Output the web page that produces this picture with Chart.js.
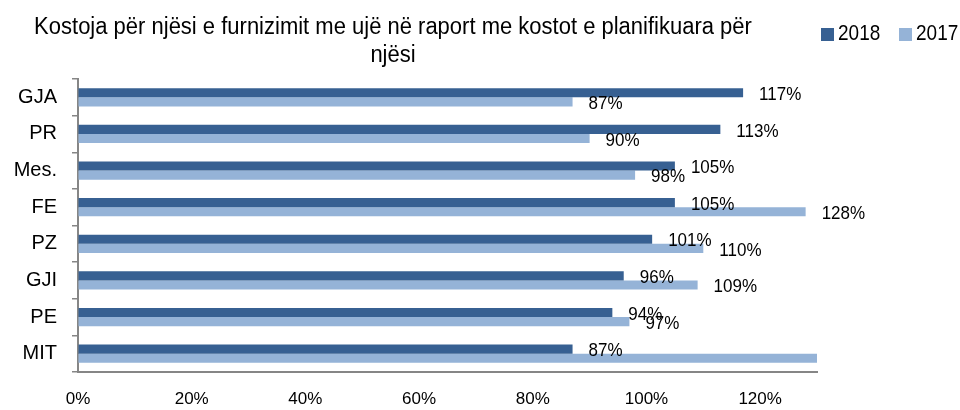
<!DOCTYPE html>
<html>
<head>
<meta charset="utf-8">
<script src="https://cdn.jsdelivr.net/npm/chart.js@4"></script>
<style>
  html, body { margin: 0; padding: 0; background: #ffffff; }
  #wrap { width: 960px; height: 410px; }
</style>
</head>
<body>
<div id="wrap"><canvas id="c" width="960" height="410"></canvas></div>
<script>
const categories = ['GJA', 'PR', 'Mes.', 'FE', 'PZ', 'GJI', 'PE', 'MIT'];
const values2018 = [117, 113, 105, 105, 101, 96, 94, 87];
const values2017 = [87, 90, 98, 128, 110, 109, 97, 135];
const seriesNames = ['2018', '2017'];
const titleLines = ['Kostoja për njësi e furnizimit me ujë në raport me kostot e planifikuara për', 'njësi'];
const xTickValues = [0, 20, 40, 60, 80, 100, 120];

const FONT = "'Liberation Sans', Arial, sans-serif";
const DARK = '#376092';
const LIGHT = '#95B3D7';
const AXIS = '#868686';

function tallText(ctx, text, x, y, sy) {
  ctx.save();
  ctx.translate(x, y);
  ctx.scale(1, sy);
  ctx.fillText(text, 0, 0);
  ctx.restore();
}

const decorPlugin = {
  id: 'decor',
  afterDraw(chart) {
    const ctx = chart.ctx;
    ctx.save();
    // title
    ctx.fillStyle = '#000000';
    ctx.font = '22px ' + FONT;
    ctx.textAlign = 'center';
    ctx.textBaseline = 'alphabetic';
    tallText(ctx, titleLines[0], 393, 34, 1.05);
    tallText(ctx, titleLines[1], 393, 62, 1.05);
    // legend
    const items = [
      { box: 821, text: 838, color: DARK, label: chart.data.datasets[0].label },
      { box: 899, text: 916, color: LIGHT, label: chart.data.datasets[1].label }
    ];
    ctx.font = '19px ' + FONT;
    ctx.textAlign = 'left';
    ctx.textBaseline = 'middle';
    items.forEach(it => {
      ctx.fillStyle = it.color;
      ctx.fillRect(it.box, 28, 13, 13);
      ctx.fillStyle = '#000000';
      tallText(ctx, it.label, it.text, 34, 1.2);
    });
    ctx.restore();
  },
  afterDatasetsDraw(chart) {
    const ctx = chart.ctx;
    const xs = chart.scales.x;
    ctx.save();
    ctx.font = '17px ' + FONT;
    ctx.fillStyle = '#000000';
    ctx.textAlign = 'left';
    ctx.textBaseline = 'middle';
    chart.data.datasets.forEach((ds, di) => {
      const meta = chart.getDatasetMeta(di);
      meta.data.forEach((el, i) => {
        const v = ds.data[i];
        if (v > xs.max) return;
        tallText(ctx, v + '%', el.x + 16, el.y + 2, 1.12);
      });
    });
    ctx.restore();
  }
};

new Chart(document.getElementById('c'), {
  type: 'bar',
  data: {
    labels: categories,
    datasets: [
      { label: seriesNames[0], data: values2018, backgroundColor: DARK, categoryPercentage: 0.5, barPercentage: 1.0 },
      { label: seriesNames[1], data: values2017, backgroundColor: LIGHT, categoryPercentage: 0.5, barPercentage: 1.0 }
    ]
  },
  options: {
    indexAxis: 'y',
    responsive: false,
    devicePixelRatio: 1,
    animation: false,
    layout: { padding: { top: 79, right: 143, bottom: 0, left: 0 } },
    plugins: {
      legend: { display: false },
      title: { display: false },
      tooltip: { enabled: false }
    },
    scales: {
      x: {
        min: 0,
        max: 130,
        afterFit(scale) { scale.height = 38; },
        afterBuildTicks(scale) {
          scale.ticks = xTickValues.map(v => ({ value: v }));
        },
        ticks: {
          padding: 17,
          color: '#000000',
          font: { family: FONT, size: 17 },
          callback: v => v + '%'
        },
        grid: { display: true, drawOnChartArea: false, drawTicks: false, color: AXIS },
        border: { display: true, color: AXIS, width: 2 }
      },
      y: {
        afterFit(scale) { scale.width = 78; },
        ticks: {
          padding: 15,
          color: '#000000',
          font: { family: FONT, size: 20 }
        },
        grid: { display: true, drawOnChartArea: false, drawTicks: true, tickLength: 6, color: AXIS, lineWidth: 1.5, offset: true },
        border: { display: true, color: AXIS, width: 2 }
      }
    }
  },
  plugins: [decorPlugin]
});
</script>
</body>
</html>
